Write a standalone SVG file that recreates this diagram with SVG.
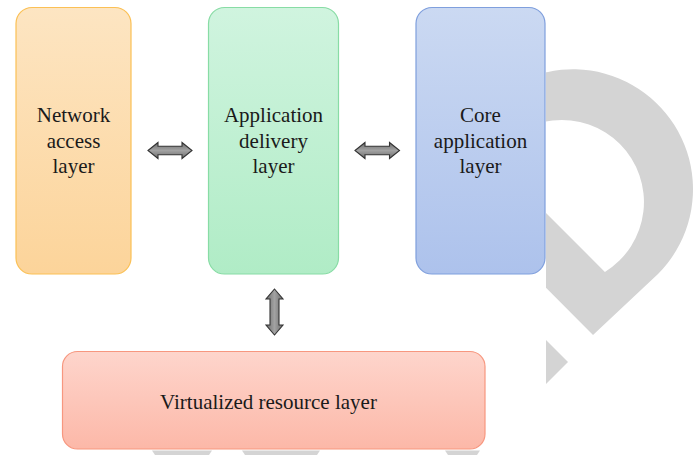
<svg xmlns="http://www.w3.org/2000/svg" width="698" height="455" viewBox="0 0 698 455">
  <defs>
    <style>
      .box { stroke-width: 1.2; }
      .label { font-family: "Liberation Serif", "Times New Roman", serif; font-size: 21px; fill: #1a1a1a; text-anchor: middle; }
      .arrow { stroke: #333333; stroke-width: 1.1; stroke-linejoin: miter; }
      .mark { fill: #d4d4d4; }
    </style>
    <linearGradient id="gOrange" x1="0" y1="0" x2="0" y2="1">
      <stop offset="0" stop-color="#fde5c2"/>
      <stop offset="1" stop-color="#fcd49a"/>
    </linearGradient>
    <linearGradient id="gGreen" x1="0" y1="0" x2="0" y2="1">
      <stop offset="0" stop-color="#d0f4df"/>
      <stop offset="1" stop-color="#b0ecc6"/>
    </linearGradient>
    <linearGradient id="gBlue" x1="0" y1="0" x2="0" y2="1">
      <stop offset="0" stop-color="#cbd9f2"/>
      <stop offset="1" stop-color="#adc2ec"/>
    </linearGradient>
    <linearGradient id="gRed" x1="0" y1="0" x2="0" y2="1">
      <stop offset="0" stop-color="#fed5cc"/>
      <stop offset="1" stop-color="#fcb8a8"/>
    </linearGradient>
    <linearGradient id="gArrowH" x1="0" y1="0" x2="0" y2="1">
      <stop offset="0" stop-color="#6c6c6c"/>
      <stop offset="0.5" stop-color="#a2a2a2"/>
      <stop offset="1" stop-color="#6c6c6c"/>
    </linearGradient>
    <linearGradient id="gArrowV" x1="0" y1="0" x2="1" y2="0">
      <stop offset="0" stop-color="#6c6c6c"/>
      <stop offset="0.5" stop-color="#a2a2a2"/>
      <stop offset="1" stop-color="#6c6c6c"/>
    </linearGradient>
    <clipPath id="markClip">
      <rect x="546" y="0" width="152" height="455"/>
    </clipPath>
  </defs>

  <rect width="698" height="455" fill="#ffffff"/>

  <!-- background pin mark -->
  <g id="backdrop" clip-path="url(#markClip)">
    <path class="mark" fill-rule="evenodd"
          d="M593,335 L658,274 A120,120 0 1,0 453,189 L453,194 Z
             M604.9,271.9 A82,82 0 1,0 492.1,159.1 Z"/>
    <polygon class="mark" points="546,340 568,362 546,384"/>
  </g>
  <g id="backdrop-strips">
    <polygon class="mark" points="152,450.5 212,450.5 209,455 155,455"/>
    <polygon class="mark" points="242,450.5 320,450.5 317,455 245,455"/>
    <polygon class="mark" points="445,450.5 480,450.5 477,455 448,455"/>
  </g>

  <!-- layers -->
  <g id="network-access">
    <rect class="box" x="16" y="7.5" width="115" height="266.5" rx="16" fill="url(#gOrange)" stroke="#fbc055"/>
    <text class="label" x="73.5" y="122">Network</text>
    <text class="label" x="73.5" y="147.5">access</text>
    <text class="label" x="73.5" y="172.5">layer</text>
  </g>

  <g id="application-delivery">
    <rect class="box" x="208.5" y="7.5" width="130" height="266.5" rx="16" fill="url(#gGreen)" stroke="#88dca5"/>
    <text class="label" x="273.5" y="122">Application</text>
    <text class="label" x="273.5" y="147.5">delivery</text>
    <text class="label" x="273.5" y="172.5">layer</text>
  </g>

  <g id="core-application">
    <rect class="box" x="416" y="7.5" width="129" height="266.5" rx="16" fill="url(#gBlue)" stroke="#7f9fdd"/>
    <text class="label" x="480.5" y="122">Core</text>
    <text class="label" x="480.5" y="147.5">application</text>
    <text class="label" x="480.5" y="172.5">layer</text>
  </g>

  <g id="virtualized-resource">
    <rect class="box" x="62.5" y="351.5" width="422.5" height="97.5" rx="15" fill="url(#gRed)" stroke="#f7977f"/>
    <text class="label" x="268.5" y="409">Virtualized resource layer</text>
  </g>

  <!-- two-way block arrows between layers -->
  <g id="connectors">
    <polygon class="arrow" fill="url(#gArrowH)"
             points="148,150.5 158,142.5 158,146.2 182,146.2 182,142.5 192,150.5 182,158.5 182,154.8 158,154.8 158,158.5"/>
    <polygon class="arrow" fill="url(#gArrowH)"
             points="355,150.5 365,142.5 365,146.2 389.5,146.2 389.5,142.5 399.5,150.5 389.5,158.5 389.5,154.8 365,154.8 365,158.5"/>
    <polygon class="arrow" fill="url(#gArrowV)"
             points="274.5,289 283,299 279,299 279,325 283,325 274.5,335 266,325 270,325 270,299 266,299"/>
  </g>
</svg>
